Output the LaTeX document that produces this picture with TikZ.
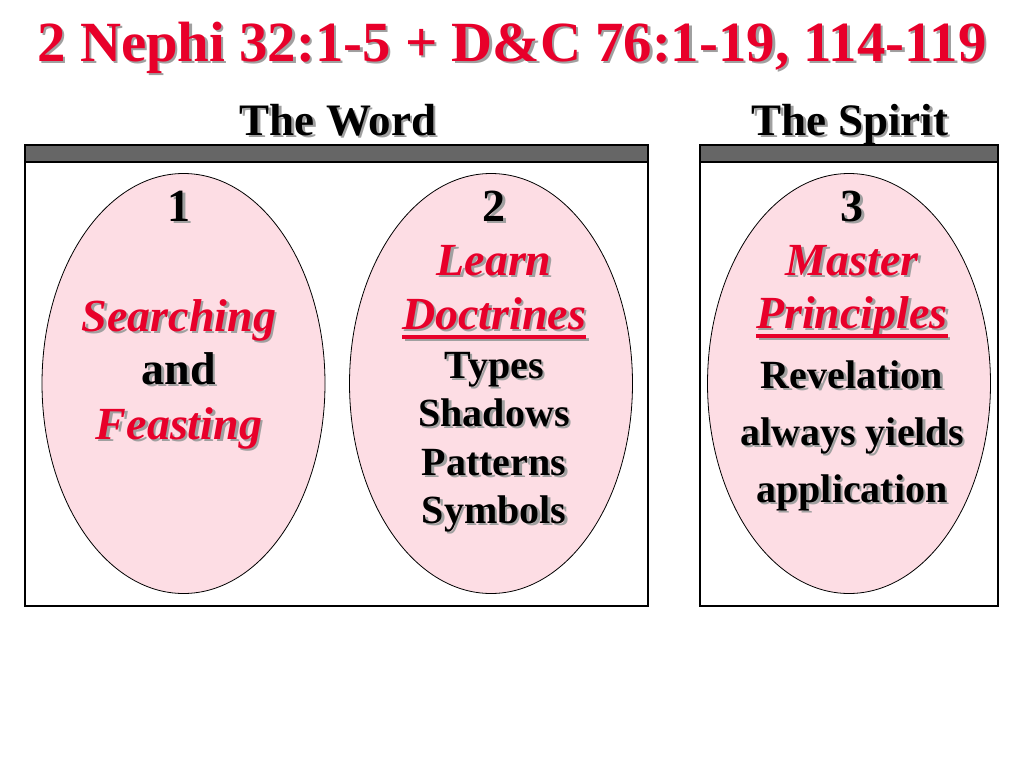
\documentclass[tikz,border=0pt]{standalone}
\usepackage{fontspec}
\setmainfont{Liberation Serif}
\usepackage{xcolor}
\usetikzlibrary{positioning,shapes.geometric}
\definecolor{slidered}{RGB}{232,0,42}
\definecolor{ovalpink}{RGB}{253,221,228}
\definecolor{bargray}{RGB}{102,102,102}
\definecolor{shadowgray}{RGB}{160,160,160}
\newcommand{\shd}[1]{\leavevmode\rlap{\kern2.5pt\raisebox{-2.5pt}{\color{shadowgray}#1}}#1}
\newcommand{\redul}[1]{\setbox0\hbox{#1}\rlap{\rule[-9.5pt]{\wd0}{3.2pt}}\box0}

\begin{document}
\begin{tikzpicture}[x=1pt,y=-1pt]
\tikzstyle{every node}+=[inner sep=0pt]
\tikzstyle{oval}=[ellipse, draw=black, line width=0.8pt, fill=ovalpink, minimum width=283pt, minimum height=420pt]
\tikzstyle{txt}=[anchor=base, font=\fontsize{46}{46}\selectfont\bfseries]
\tikzstyle{redtxt}=[anchor=base, text=slidered, font=\fontsize{46}{46}\selectfont\bfseries\itshape]
\tikzstyle{smalltxt}=[anchor=base, font=\fontsize{40}{40}\selectfont\bfseries]
\useasboundingbox (0,0) rectangle (1024,768);
% title and headings
\node (title) [anchor=base, text=slidered, font=\fontsize{56.8}{56.8}\selectfont\bfseries] at (512,61) {\shd{2 Nephi 32:1-5 + D\&C 76:1-19, 114-119}};
\node (word) [txt, font=\fontsize{45}{45}\selectfont\bfseries] at (338,135) {\shd{The Word}};
\node (spirit) [txt, font=\fontsize{45}{45}\selectfont\bfseries] at (850,135) {\shd{The Spirit}};
% boxes
\draw [black, line width=1.2pt] (25,145) rectangle (648,606);
\draw [black, fill=bargray, line width=1.2pt] (25,145) rectangle (648,162);
\draw [black, line width=1.2pt] (700,145) rectangle (998,606);
\draw [black, fill=bargray, line width=1.2pt] (700,145) rectangle (998,162);
% ovals
\node (e1) [oval] at (183.5,383.5) {};
\node (e2) [oval] at (491,383.5) {};
\node (e3) [oval] at (849,383.5) {};
% oval 1
\node (num1) [txt] at (179,221) {\shd{1}};
\node (search) [redtxt] at (179,331) {\shd{Searching}};
\node (and) [txt] at (179,384) {\shd{and}};
\node (feast) [redtxt] at (179,439) {\shd{Feasting}};
% oval 2
\node (num2) [txt] at (494,221) {\shd{2}};
\node (learn) [redtxt] at (494,275) {\shd{Learn}};
\node (doct) [redtxt] at (494,329) {\shd{\redul{Doctrines}}};
\node (types) [smalltxt] at (494,378) {\shd{Types}};
\node (shadows) [smalltxt] at (494,426) {\shd{Shadows}};
\node (patterns) [smalltxt] at (494,475) {\shd{Patterns}};
\node (symbols) [smalltxt] at (494,523) {\shd{Symbols}};
% oval 3
\node (num3) [txt] at (852,221) {\shd{3}};
\node (master) [redtxt] at (852,275) {\shd{Master}};
\node (princ) [redtxt] at (852,328) {\shd{\redul{Principles}}};
\node (revel) [smalltxt] at (852,388) {\shd{Revelation}};
\node (yields) [smalltxt] at (852,445) {\shd{always yields}};
\node (appl) [smalltxt] at (852,502) {\shd{application}};
\end{tikzpicture}
\end{document}
